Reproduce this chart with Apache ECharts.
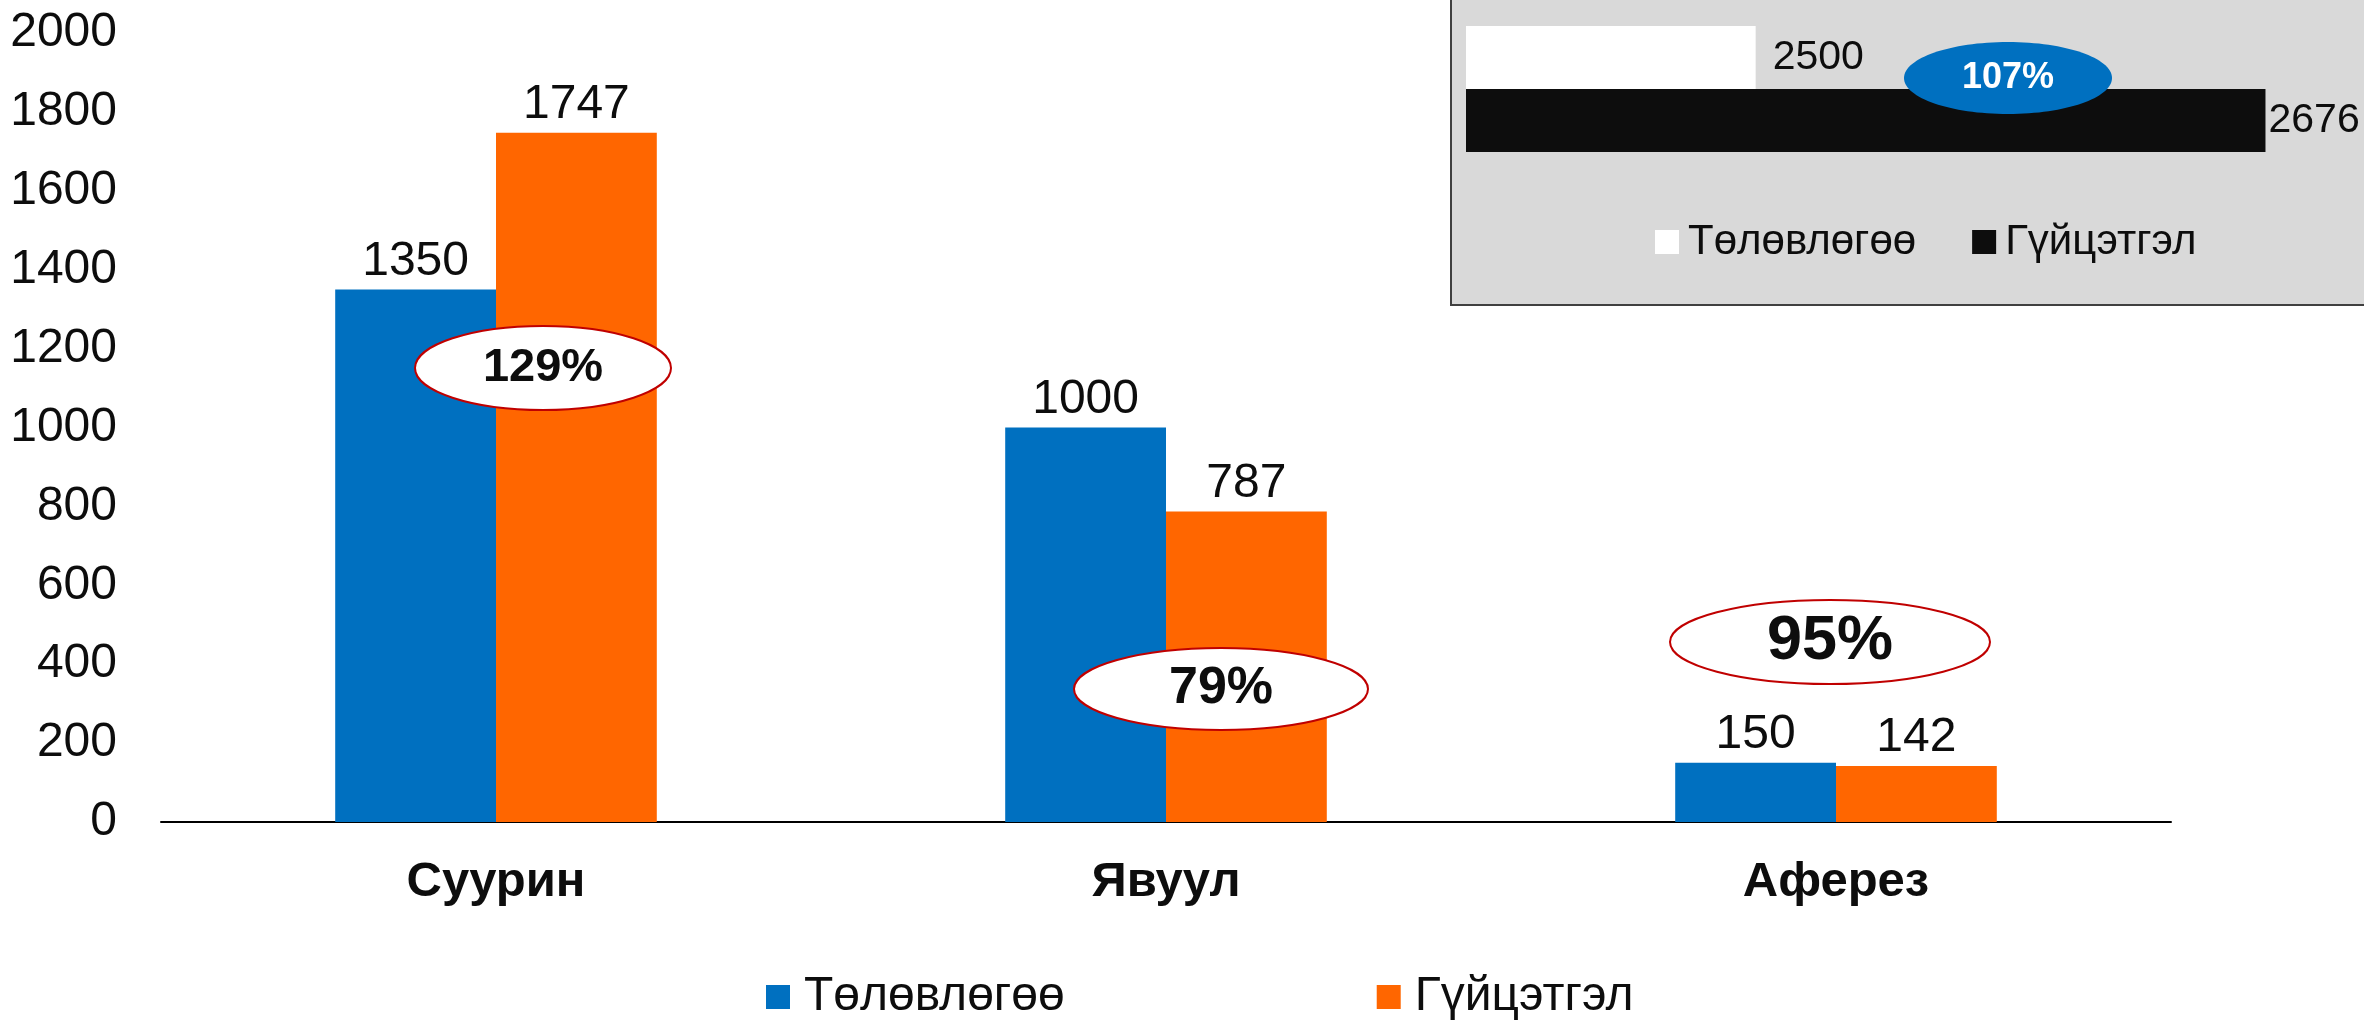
<!DOCTYPE html>
<html>
<head>
<meta charset="utf-8">
<script src="https://cdn.jsdelivr.net/npm/echarts@6/dist/echarts.min.js"></script>
<style>
html,body{margin:0;padding:0;background:#fff}
#main{width:2364px;height:1020px}
</style>
</head>
<body>
<div id="main"></div>
<script>
// 数据
var categories = ['Суурин', 'Явуул', 'Аферез'];
var planValues = [1350, 1000, 150];
var actualValues = [1747, 787, 142];
var seriesNames = ['Төлөвлөгөө', 'Гүйцэтгэл'];
var totalCategory = ['Нийт'];
var totalPlan = [2500];
var totalActual = [2676];

var FONT = '"Liberation Sans", Arial, sans-serif';
var BLUE = '#0070c0', ORANGE = '#ff6600', DARK = '#0d0d0d';

var pct = function (a, p) { return Math.round(a / p * 100) + '%'; };
var ratios = planValues.map(function (p, i) { return pct(actualValues[i], p); });
var totalRatio = pct(totalActual[0], totalPlan[0]);

// 椭圆标注
var ovals = [
    {cx: 543, cy: 368, rx: 128, ry: 42, size: 47, text: ratios[0]},
    {cx: 1221, cy: 689, rx: 147, ry: 41, size: 52, text: ratios[1]},
    {cx: 1830, cy: 642, rx: 160, ry: 42, size: 63, text: ratios[2]}
];
var graphics = [{
    type: 'rect', z: 0,
    shape: {x: 1451, y: -10, width: 1000, height: 315},
    style: {fill: '#d9d9d9', stroke: '#404040', lineWidth: 2}
}];
ovals.forEach(function (o) {
    graphics.push({type: 'ellipse', z: 50, shape: {cx: o.cx, cy: o.cy, rx: o.rx, ry: o.ry},
        style: {fill: '#fff', stroke: '#c00000', lineWidth: 2}});
    graphics.push({type: 'text', z: 51, x: o.cx, y: o.cy,
        style: {text: o.text, font: 'bold ' + o.size + 'px ' + FONT, fill: DARK,
            textAlign: 'center', textVerticalAlign: 'middle', textBaseline: 'middle'}});
});
graphics.push({type: 'ellipse', z: 50, shape: {cx: 2008, cy: 78, rx: 104, ry: 36},
    style: {fill: BLUE, stroke: null}});
graphics.push({type: 'text', z: 51, x: 2008, y: 78,
    style: {text: totalRatio, font: 'bold 36px ' + FONT, fill: '#fff',
        textAlign: 'center', textVerticalAlign: 'middle', textBaseline: 'middle'}});

var chart = echarts.init(document.getElementById('main'));
var option = {
    backgroundColor: '#fff',
    textStyle: {fontFamily: FONT},
    animation: false,
    graphic: graphics,
    grid: [
        {left: 161, right: 193, top: 33, bottom: 198},
        {left: 1466, width: 869, top: 9, height: 160}
    ],
    legend: [{
        left: 761, top: 968,
        itemWidth: 24, itemHeight: 24, itemGap: 312,
        icon: 'rect',
        textStyle: {fontSize: 48, color: DARK, fontFamily: FONT, padding: [0, 0, 0, 9]},
        data: [
            {name: seriesNames[0], itemStyle: {color: BLUE}},
            {name: seriesNames[1], itemStyle: {color: ORANGE}}
        ]
    }, {
        left: 1650, top: 216,
        itemWidth: 24, itemHeight: 24, itemGap: 56,
        icon: 'rect',
        textStyle: {fontSize: 42, color: DARK, fontFamily: FONT, padding: [0, 0, 0, 4]},
        data: [
            {name: seriesNames[0], itemStyle: {color: '#ffffff', borderWidth: 0}},
            {name: seriesNames[1], itemStyle: {color: DARK, borderWidth: 0}}
        ]
    }],
    xAxis: [{
        type: 'category', gridIndex: 0, data: categories,
        axisTick: {show: false},
        axisLine: {lineStyle: {color: '#000', width: 2}},
        axisLabel: {fontSize: 49, fontWeight: 'bold', color: DARK, margin: 36, fontFamily: FONT}
    }, {
        type: 'value', gridIndex: 1, min: 2400, max: 2700, show: false
    }],
    yAxis: [{
        type: 'value', gridIndex: 0, min: 0, max: 2000, interval: 200,
        axisLine: {show: false}, axisTick: {show: false},
        splitLine: {show: false},
        axisLabel: {fontSize: 48, color: DARK, margin: 44, fontFamily: FONT,
            formatter: function (v) { return String(v); }}
    }, {
        type: 'category', gridIndex: 1, data: totalCategory, inverse: true, show: false
    }],
    series: [{
        name: seriesNames[0], type: 'bar', xAxisIndex: 0, yAxisIndex: 0,
        data: planValues, barCategoryGap: '52%', barGap: '0%',
        itemStyle: {color: BLUE},
        label: {show: true, position: 'top', distance: 4, fontSize: 48, color: DARK, fontFamily: FONT}
    }, {
        name: seriesNames[1], type: 'bar', xAxisIndex: 0, yAxisIndex: 0,
        data: actualValues, barCategoryGap: '52%', barGap: '0%',
        itemStyle: {color: ORANGE},
        label: {show: true, position: 'top', distance: 4, fontSize: 48, color: DARK, fontFamily: FONT}
    }, {
        name: seriesNames[0], type: 'bar', xAxisIndex: 1, yAxisIndex: 1,
        data: totalPlan, barWidth: 63, barGap: '0%',
        itemStyle: {color: '#ffffff'},
        label: {show: true, position: 'right', distance: 17, fontSize: 41, color: DARK, fontFamily: FONT}
    }, {
        name: seriesNames[1], type: 'bar', xAxisIndex: 1, yAxisIndex: 1,
        data: totalActual, barWidth: 63, barGap: '0%',
        itemStyle: {color: DARK},
        label: {show: true, position: 'right', distance: 3, fontSize: 41, color: DARK, fontFamily: FONT}
    }]
};
chart.setOption(option);
</script>
</body>
</html>
